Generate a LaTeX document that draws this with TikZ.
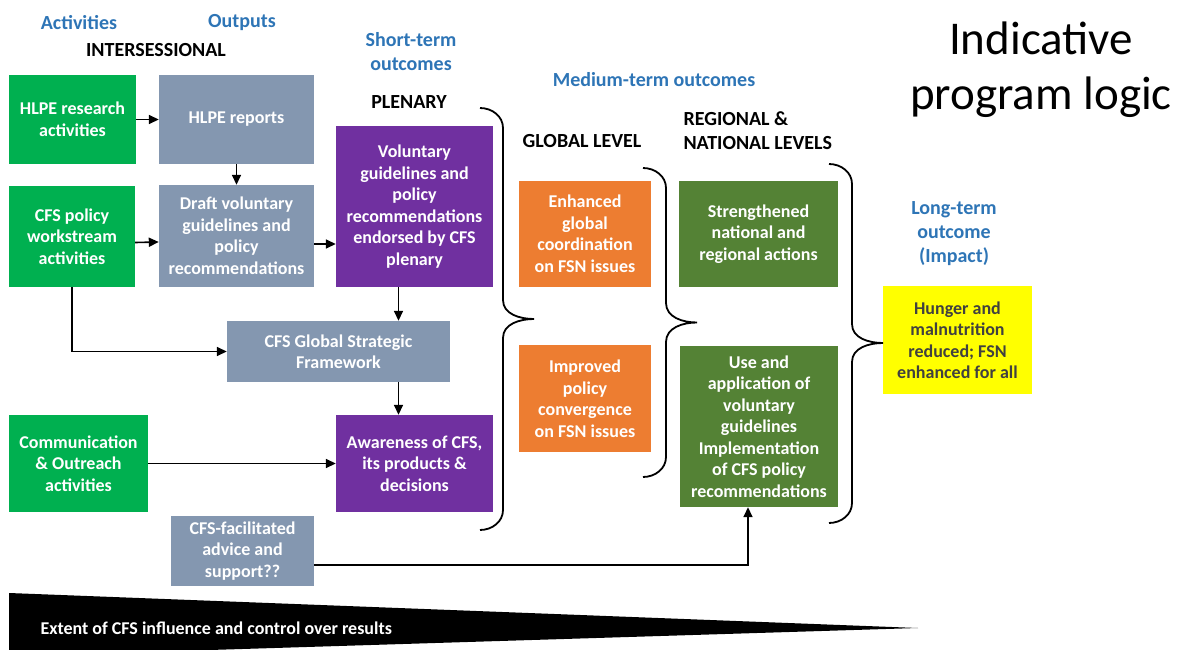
\documentclass[tikz,border=0pt]{standalone}
\usepackage{fontspec}
\setmainfont{Carlito}
\usepackage{xcolor}
\usetikzlibrary{arrows.meta,positioning,calc}

\definecolor{actgreen}{HTML}{00B050}
\definecolor{outgrey}{HTML}{8497B0}
\definecolor{plenpurple}{HTML}{7030A0}
\definecolor{globorange}{HTML}{ED7D31}
\definecolor{natgreen}{HTML}{548235}
\definecolor{impyellow}{HTML}{FFFF00}
\definecolor{headblue}{HTML}{2E75B6}

\begin{document}
\begin{tikzpicture}[x=1pt,y=-1pt,>={Triangle[length=10pt,width=9pt]},
    box/.style={fill=#1, text=white, align=center, inner sep=0pt,
      font=\bfseries\fontsize{18}{21.5}\selectfont},
    head/.style={text=headblue, align=center, font=\bfseries\fontsize{20}{24}\selectfont},
    level/.style={align=center, font=\bfseries\fontsize{20}{24}\selectfont},
    link/.style={->, line width=1.6pt},
    curly/.style={line width=1.8pt}]
  \useasboundingbox (0,0) rectangle (1184,650);

  % column headings
  \node[head] (hact) at (79,23) {Activities};
  \node[head] (hout) at (242,23) {Outputs};
  \node[level] (hinter) at (156,50) {INTERSESSIONAL};
  \node[head] (hshort) at (411,52) {Short-term\\outcomes};
  \node[level] (hplen) at (409,102) {PLENARY};
  \node[head] (hmed) at (654,80) {Medium-term outcomes};
  \node[level] (hglob) at (582,141) {GLOBAL LEVEL};
  \node[level, anchor=west, align=left] (hnat) at (680,131) {REGIONAL \&\\NATIONAL LEVELS};
  \node[head] (hlong) at (954,234) {Long-term\\outcome\\(Impact)};
  \node[align=center, font=\fontsize{47}{55}\selectfont] (title) at (1041,70) {Indicative\\program logic};

  % activities
  \node[box=actgreen, minimum width=127pt, minimum height=89pt] (hlpeact) at (72.5,119.5) {HLPE research\\activities};
  \node[box=actgreen, minimum width=126pt, minimum height=101pt] (cfsact) at (72,236.5) {CFS policy\\workstream\\activities};
  \node[box=actgreen, minimum width=139pt, minimum height=97pt] (comm) at (78.5,463.5) {Communication\\\& Outreach\\activities};

  % outputs
  \node[box=outgrey, minimum width=155pt, minimum height=89pt] (hlperep) at (236.5,119.5) {HLPE reports};
  \node[box=outgrey, minimum width=155pt, minimum height=102pt] (draft) at (236.5,236) {Draft voluntary\\guidelines and\\policy\\recommendations};
  \node[box=outgrey, minimum width=223pt, minimum height=61pt] (gsf) at (338.5,351.5) {CFS Global Strategic\\Framework};
  \node[box=outgrey, minimum width=143pt, minimum height=70pt] (advice) at (242.5,551) {CFS-facilitated\\advice and\\support??};

  % short-term outcomes
  \node[box=plenpurple, minimum width=157pt, minimum height=161pt] (endorse) at (414.5,206.5) {Voluntary\\guidelines and\\policy\\recommendations\\endorsed by CFS\\plenary};
  \node[box=plenpurple, minimum width=157pt, minimum height=97pt] (aware) at (414.5,463.5) {Awareness of CFS,\\its products \&\\decisions};

  % medium-term outcomes
  \node[box=globorange, minimum width=132pt, minimum height=106pt] (coord) at (585,234) {Enhanced\\global\\coordination\\on FSN issues};
  \node[box=globorange, minimum width=132pt, minimum height=107pt] (conv) at (585,398.5) {Improved\\policy\\convergence\\on FSN issues};
  \node[box=natgreen, minimum width=159pt, minimum height=106pt] (strong) at (758.5,234) {Strengthened\\national and\\regional actions};
  \node[box=natgreen, minimum width=158pt, minimum height=161pt] (apply) at (759,426.5) {Use and\\application of\\voluntary\\guidelines\\Implementation\\of CFS policy\\recommendations};

  % impact
  \node[box=impyellow, text=black!75, minimum width=149pt, minimum height=108pt] (hunger) at (957.5,340) {Hunger and\\malnutrition\\reduced; FSN\\enhanced for all};

  % arrows
  \draw[link] (hlpeact.east) -- (hlperep.west);
  \draw[link] (hlperep.south) -- (draft.north);
  \draw[link] ([yshift=-6pt]cfsact.east) -- ([yshift=-6pt]draft.west);
  \draw[link] ([yshift=-8pt]draft.east) -- ([yshift=-8pt]draft.east -| endorse.west);
  \draw[link] ([xshift=-16pt]endorse.south) -- ([xshift=-16pt]endorse.south |- gsf.north);
  \draw[link] (cfsact.south) |- (gsf.west);
  \draw[link] ([xshift=-16pt]aware.north |- gsf.south) -- ([xshift=-16pt]aware.north);
  \draw[link] (comm.east) -- (comm.east -| aware.west);
  \draw[link] ([yshift=-14pt]advice.east) -| ([xshift=-11pt]apply.south);

  % braces
  \draw[curly] (480,108) to[out=0,in=90] (503,128) -- (503,300) to[out=-90,in=180] (534,319)
    to[out=180,in=90] (503,338) -- (503,510) to[out=-90,in=0] (480,530);
  \draw[curly] (643,168) to[out=0,in=90] (666,188) -- (666,303) to[out=-90,in=180] (697,322.5)
    to[out=180,in=90] (666,342) -- (666,457) to[out=-90,in=0] (643,477);
  \draw[curly] (829,164) to[out=0,in=90] (852,184) -- (852,324) to[out=-90,in=180] (883,343)
    to[out=180,in=90] (852,362) -- (852,503) to[out=-90,in=0] (829,523);

  % influence wedge
  \fill (9,593) -- (918,628) -- (210,650) -- (9,650) -- cycle;
  \node[anchor=west, text=white, font=\bfseries\fontsize{18}{21.5}\selectfont] (extent) at (37,628) {Extent of CFS influence and control over results};
\end{tikzpicture}
\end{document}
